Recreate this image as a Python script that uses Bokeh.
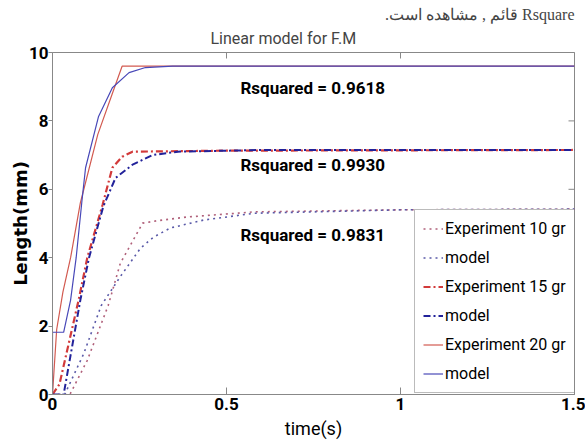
import math
from bokeh.plotting import figure
from bokeh.models import Range1d, Label, Legend, LegendItem, FixedTicker, Title
from bokeh.embed import file_html
from bokeh.resources import INLINE

# ---- data ----
exp10_t = [0, 0.05, 0.10, 0.16, 0.195, 0.259, 0.30, 0.387, 0.58, 1.0, 1.5]
exp10_y = [0, 0.0, 1.0, 2.6, 3.84, 5.01, 5.08, 5.19, 5.34, 5.40, 5.42]
mod10_t = [0, 0.035, 0.09, 0.14, 0.195, 0.253, 0.29, 0.339, 0.434, 0.58, 1.0, 1.5]
mod10_y = [0, 0.0, 1.2, 2.6, 3.45, 4.28, 4.6, 4.87, 5.10, 5.30, 5.40, 5.42]

exp15_t = [0, 0.02, 0.075, 0.10, 0.144, 0.172, 0.20, 0.23, 0.5, 1.5]
exp15_y = [0, 0.3, 2.76, 4.0, 5.55, 6.63, 6.95, 7.10, 7.13, 7.15]
mod15_t = [0, 0.032, 0.08, 0.105, 0.146, 0.181, 0.23, 0.287, 0.36, 0.6, 1.5]
mod15_y = [0, 0.0, 2.76, 4.0, 5.5, 6.33, 6.72, 7.0, 7.10, 7.15, 7.15]

exp20_t = [0, 0.012, 0.03, 0.052, 0.08, 0.13, 0.172, 0.20, 1.5]
exp20_y = [0, 1.9, 3.0, 4.0, 5.6, 7.6, 8.8, 9.6, 9.6]
mod20_t = [0, 0.0, 0.032, 0.052, 0.068, 0.085, 0.095, 0.132, 0.172, 0.22, 0.267, 0.345, 1.5]
mod20_y = [0, 1.82, 1.82, 2.76, 4.0, 5.7, 6.63, 8.12, 8.97, 9.41, 9.56, 9.60, 9.60]

legend_labels = ["Experiment 10 gr", "model", "Experiment 15 gr", "model",
                 "Experiment 20 gr", "model"]
rsq_texts = ["Rsquared = 0.9618", "Rsquared = 0.9930", "Rsquared = 0.9831"]
rsq_x = [0.54, 0.54, 0.54]
rsq_y = [8.97, 6.72, 4.66]
x_ticks = [0, 0.5, 1, 1.5]
y_ticks = [0, 2, 4, 6, 8, 10]

title_text = "Linear model for F.M"
x_title = "time(s)"
y_title = "Length(mm)"
header_text = "\u202bRsquare قائم , مشاهده است.\u202c"

FONT = "Roboto"
GRAY = "#888888"

W, H = 585, 445
p = figure(width=W, height=H, output_backend="svg", toolbar_location=None,
           x_range=Range1d(0, 1.5), y_range=Range1d(0, 10),
           min_border_left=52, min_border_right=11, min_border_top=52, min_border_bottom=51)
p.grid.visible = False
p.outline_line_color = GRAY
p.background_fill_color = "white"
p.border_fill_color = "white"

# header line (cropped document text) as the outer title
p.title.text = header_text
p.title.align = "right"
p.title.text_font = "Liberation Serif"
p.title.text_font_size = "16px"
p.title.text_font_style = "normal"
p.title.standoff = 0

# chart title, closest to the frame
p.add_layout(Title(text=title_text, align="left", offset=158, text_font=FONT,
                   text_font_size="16px", text_font_style="normal", standoff=9), "above")

# axes
xa = p.xaxis[0]
xa.ticker = FixedTicker(ticks=x_ticks)
xa.major_label_overrides = {0: "0", 0.5: "0.5", 1: "1", 1.5: "1.5"}
xa.major_tick_in = 7
xa.major_tick_out = 0
xa.minor_tick_line_color = None
xa.axis_line_color = GRAY
xa.major_tick_line_color = GRAY
xa.major_label_text_font = FONT
xa.major_label_text_font_style = "bold"
xa.major_label_text_font_size = "17px"
xa.major_label_text_color = "black"
xa.major_label_standoff = 3
xa.axis_label = x_title
xa.axis_label_text_font = FONT
xa.axis_label_text_font_style = "normal"
xa.axis_label_text_font_size = "18px"
xa.axis_label_text_color = "black"
xa.axis_label_standoff = 5

ya = p.yaxis[0]
ya.ticker = FixedTicker(ticks=y_ticks)
ya.major_tick_in = 0
ya.major_tick_out = 4
ya.minor_tick_line_color = None
ya.axis_line_color = GRAY
ya.major_tick_line_color = GRAY
ya.major_label_text_font = FONT
ya.major_label_text_font_style = "bold"
ya.major_label_text_font_size = "17px"
ya.major_label_text_color = "black"
ya.major_label_standoff = 0
ya.axis_label = y_title
ya.axis_label_text_font = "DejaVu Sans"
ya.axis_label_text_font_style = "bold"
ya.axis_label_text_font_size = "18px"
ya.axis_label_text_color = "black"
ya.axis_label_standoff = -5

# inward ticks on the top and right frame edges (clipped to the frame)
p.scatter(x=x_ticks, y=[y_ticks[-1]] * len(x_ticks), marker="dash", size=12,
          angle=math.pi / 2, line_color=GRAY, line_width=1)
p.scatter(x=[x_ticks[-1]] * len(y_ticks), y=y_ticks, marker="dash", size=12,
          line_color=GRAY, line_width=1)

# lines
r1 = p.line(exp10_t, exp10_y, line_color="#b0607a", line_width=1.6, line_dash="dotted")
r2 = p.line(mod10_t, mod10_y, line_color="#5a5aa8", line_width=1.6, line_dash="dotted")
r3 = p.line(exp15_t, exp15_y, line_color="#d23a3a", line_width=2.2, line_dash="7 3 2 3")
r4 = p.line(mod15_t, mod15_y, line_color="#22229a", line_width=2.0, line_dash="7 3 2 3")
r5 = p.line(exp20_t, exp20_y, line_color="#d25a50", line_width=1.2)
r6 = p.line(mod20_t, mod20_y, line_color="#4848b8", line_width=1.2)

legend = Legend(items=[LegendItem(label=l, renderers=[r])
                       for l, r in zip(legend_labels, [r1, r2, r3, r4, r5, r6])],
                location=(362, 1))
legend.label_text_font = FONT
legend.label_text_font_size = "16px"
legend.label_text_color = "black"
legend.glyph_width = 20
legend.glyph_height = 21
legend.label_height = 21
legend.spacing = 8
legend.padding = 8
legend.margin = 0
legend.label_standoff = 2
legend.border_line_color = "#777777"
legend.border_line_width = 1
legend.background_fill_alpha = 1.0
p.add_layout(legend, "center")

# R-squared annotations
for t, x, y in zip(rsq_texts, rsq_x, rsq_y):
    p.add_layout(Label(x=x, y=y, text=t, text_font=FONT, text_font_style="bold",
                       text_font_size="17px", text_color="black",
                       text_baseline="alphabetic"))

open("out.html", "w").write(file_html(p, INLINE))
